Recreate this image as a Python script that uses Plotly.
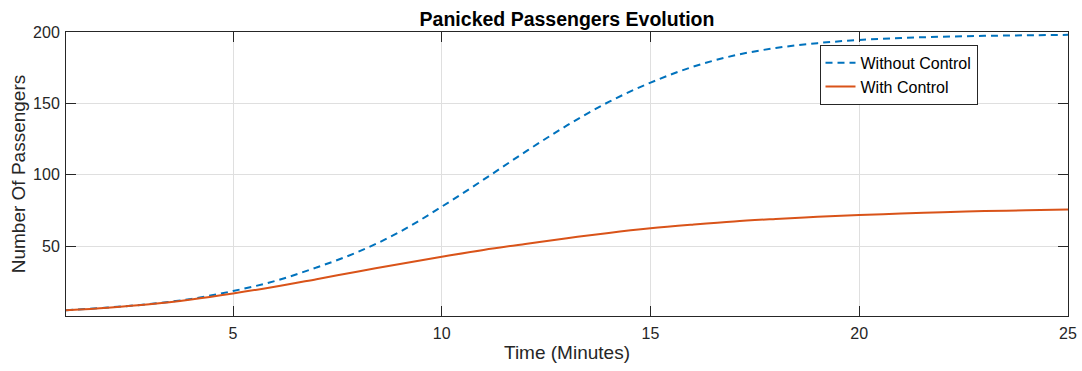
import plotly.graph_objects as go

time_min = list(range(1, 26))
without_control = [5.0, 6.9, 9.4, 13.0, 18.5, 25.5, 35.0, 46.0, 60.0, 77.6,
                   96.5, 116.0, 134.5, 151.0, 164.5, 175.5, 183.5, 188.8, 192.2, 194.4,
                   195.8, 196.7, 197.3, 197.7, 198.0]
with_control = [5.0, 6.8, 9.2, 12.6, 16.8, 21.5, 26.8, 32.2, 37.5, 42.5,
                47.3, 51.5, 55.5, 59.2, 62.4, 65.0, 67.3, 69.0, 70.5, 71.7,
                72.8, 73.7, 74.5, 75.1, 75.7]
x_ticks = [5, 10, 15, 20, 25]
y_ticks = [50, 100, 150, 200]

AX = "#262626"
GRID = "#dfdfdf"
FONT = "Liberation Sans, Arial, Helvetica, sans-serif"

fig = go.Figure()
fig.add_trace(go.Scatter(x=time_min, y=without_control, mode="lines", name="Without Control",
                         line=dict(color="#0072BD", width=2, dash="7px,5px", shape="spline")))
fig.add_trace(go.Scatter(x=time_min, y=with_control, mode="lines", name="With Control",
                         line=dict(color="#D95319", width=2, shape="spline")))

axis_common = dict(showline=True, linecolor=AX, linewidth=1, mirror="allticks",
                   ticks="inside", ticklen=10, tickcolor=AX, tickwidth=1,
                   showgrid=True, gridcolor=GRID, gridwidth=1, zeroline=False,
                   automargin=False,
                   tickfont=dict(family=FONT, size=16, color=AX))

fig.update_xaxes(range=[1, 25], tickvals=x_ticks, ticklabelstandoff=3,
                 title=dict(text="Time (Minutes)", font=dict(family=FONT, size=19, color=AX), standoff=4),
                 **axis_common)
fig.update_yaxes(range=[1, 200], tickvals=y_ticks, ticklabelstandoff=2,
                 title=dict(text="Number Of Passengers", font=dict(family=FONT, size=19, color=AX), standoff=2),
                 **axis_common)

fig.update_layout(
    width=1082, height=371,
    margin=dict(l=66, r=14, t=32, b=55),
    paper_bgcolor="white", plot_bgcolor="white",
    font=dict(family=FONT, color=AX),
    title=dict(text="<b>Panicked Passengers Evolution</b>", x=0.5, xref="paper", xanchor="center",
               y=1 - 19/371, yanchor="middle", font=dict(family=FONT, size=19.5, color="black")),
    legend=dict(x=0.752, y=0.955, xanchor="left", yanchor="top",
                bgcolor="white", bordercolor=AX, borderwidth=1,
                font=dict(family=FONT, size=16, color="black"),
                itemwidth=30, tracegroupgap=0),
    showlegend=True,
)

fig.write_html("out.html")
